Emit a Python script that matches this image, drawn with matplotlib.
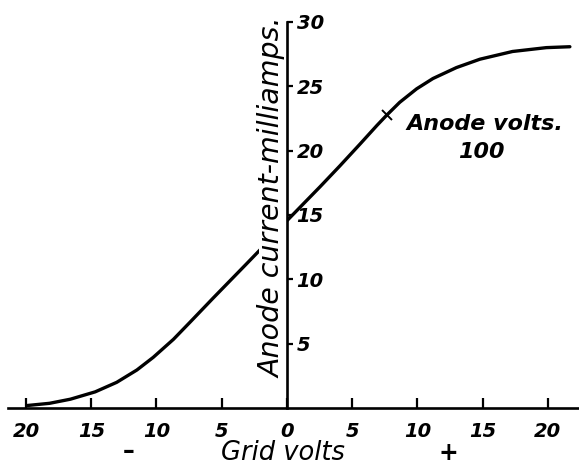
import matplotlib
matplotlib.use("Agg")
import matplotlib.pyplot as plt

# grid volts (negative = left of zero) and anode current in mA
grid_volts = [-19.9, -18.2, -16.6, -14.7, -13.05, -11.5, -10.25, -8.7, -7.4, -5.65,
              -3.1, -2.05, 0.0, 1.25, 2.55, 4.05, 5.6, 6.9, 7.65, 8.65, 9.95, 11.2,
              13.0, 14.8, 17.3, 19.9, 21.7]
anode_ma = [0.2, 0.37, 0.69, 1.26, 2.0, 2.96, 3.94, 5.34, 6.7, 8.55,
            11.2, 12.3, 14.55, 15.85, 17.2, 18.8, 20.5, 21.95, 22.75, 23.75, 24.8, 25.6,
            26.45, 27.1, 27.7, 28.0, 28.07]

# little cross drawn on the curve in the original
mark_volts = [7.65]
mark_ma = [22.75]

x_ticks = [-20, -15, -10, -5, 0, 5, 10, 15, 20]
x_labels = ["20", "15", "10", "5", "0", "5", "10", "15", "20"]
y_ticks = [5, 10, 15, 20, 25, 30]
y_labels = ["5", "10", "15", "20", "25", "30"]

font = dict(family="DejaVu Sans", style="italic")

fig = plt.figure(figsize=(5.79, 4.66), dpi=100)
ax = fig.add_axes([0, 0, 1, 1])

ax.plot(grid_volts, anode_ma, color="black", lw=2.4, solid_capstyle="round",
        solid_joinstyle="round", zorder=2)
ax.plot(mark_volts, mark_ma, ls="none", marker="x", ms=7, mew=1.4, color="black", zorder=2)

ax.set_xlim(-22.0, 22.4)
ax.set_ylim(-4.5, 31.7)

for s in ["top", "left"]:
    ax.spines[s].set_visible(False)
ax.spines["bottom"].set_position(("data", 0))
ax.spines["bottom"].set_bounds(-21.4, 22.4)
ax.spines["bottom"].set_linewidth(1.9)
ax.spines["right"].set_position(("data", 0))
ax.spines["right"].set_bounds(0, 30)
ax.spines["right"].set_linewidth(1.9)
# keep the axis lines above the label's white backing
ax.spines["right"].set_zorder(5)
ax.spines["bottom"].set_zorder(5)

ax.yaxis.set_ticks_position("right")
ax.set_xticks(x_ticks)
ax.set_xticklabels(x_labels, fontsize=14, fontweight="bold", **font)
ax.set_yticks(y_ticks)
ax.set_yticklabels(y_labels, fontsize=14, fontweight="bold", **font)
ax.tick_params(axis="x", direction="in", length=7, width=1.6, pad=10)
ax.tick_params(axis="y", direction="inout", length=8, width=1.6, pad=3)

ax.text(-1.1, 16.3, "Anode current-milliamps.", rotation=90, ha="center", va="center",
        fontsize=20.5, zorder=3, bbox=dict(facecolor="white", edgecolor="none", pad=0), **font)
ax.text(15.2, 22.1, "Anode volts.", ha="center", va="center", fontsize=16, fontweight="bold", **font)
ax.text(14.9, 19.9, "100", ha="center", va="center", fontsize=16, fontweight="bold", **font)
ax.text(-0.3, -3.5, "Grid volts", ha="center", va="center", fontsize=18.5, **font)
ax.text(-12.1, -3.3, "\u2013", ha="center", va="center", fontsize=17, fontweight="bold")
ax.text(12.4, -3.5, "+", ha="center", va="center", fontsize=17, fontweight="bold")

fig.savefig("out.png", dpi=100)
